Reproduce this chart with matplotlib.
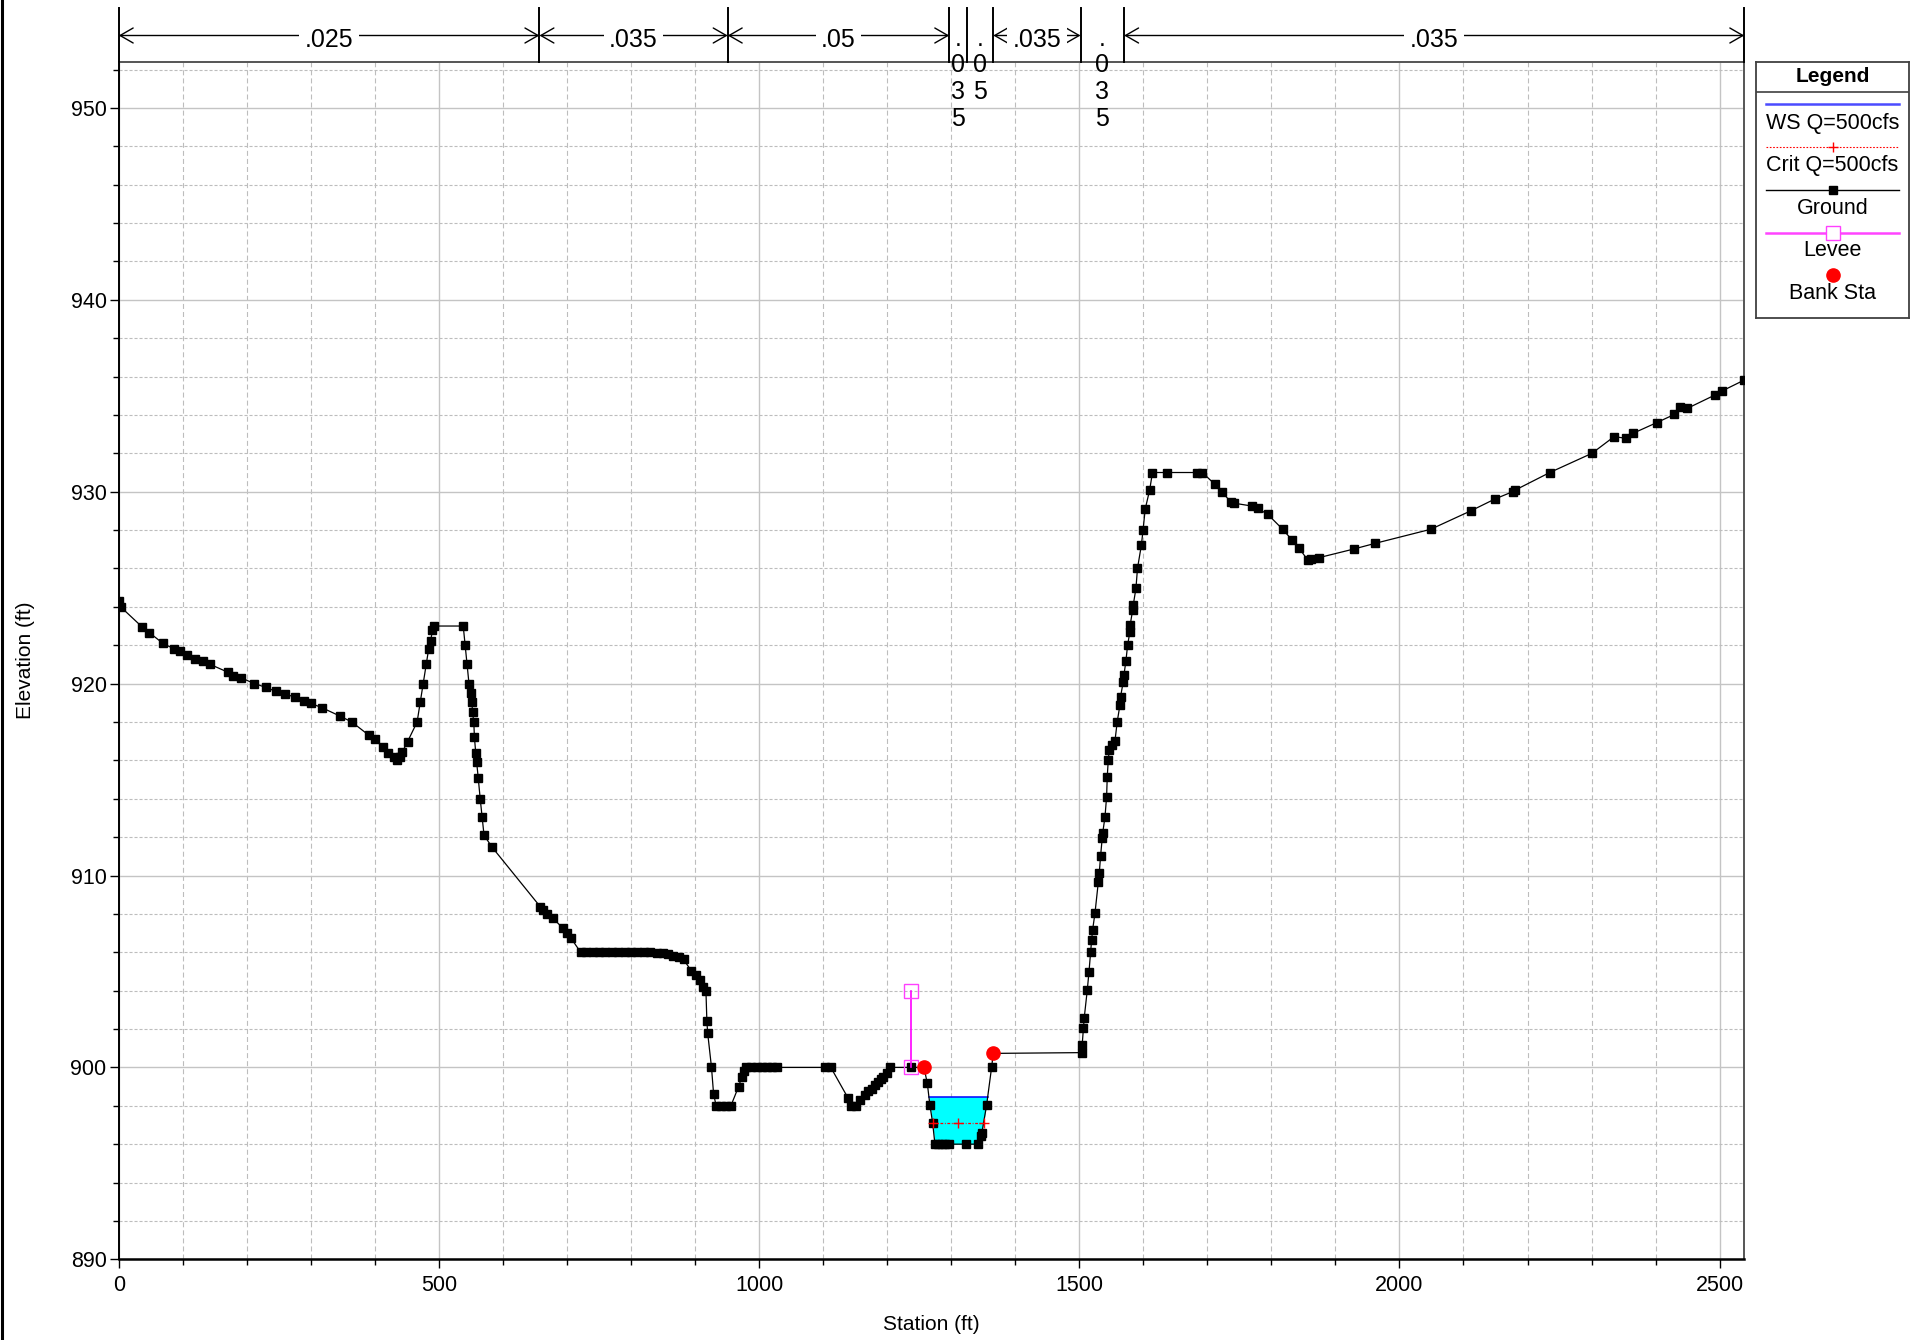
import numpy as np
import matplotlib
matplotlib.use("Agg")
import matplotlib.pyplot as plt
import matplotlib.transforms as mtransforms
from matplotlib.patches import FancyArrowPatch, ArrowStyle
from matplotlib.lines import Line2D
from matplotlib.ticker import MultipleLocator, FixedLocator

plt.rcParams['font.family'] = ['Liberation Sans', 'DejaVu Sans']
plt.rcParams['lines.scale_dashes'] = False

# ---- cross-section geometry (station ft, elevation ft) ----
station = [
    0, 3, 36, 48, 69, 87, 96, 107, 119, 131, 143, 170, 179, 191, 212, 230, 245,
    260, 275, 290, 300, 317, 346, 364, 391, 400, 412, 421, 430, 434, 439, 443,
    451, 466, 471, 475.5, 480, 484, 487, 490, 493, 538, 541, 544, 547, 550,
    551.5, 552.5, 554.5, 555.5, 557.5, 559, 561.5, 564.5, 567.5, 570.5, 582.5,
    658.4, 662, 669.3, 678.6, 694, 700, 706.6, 721.4, 730, 740, 750, 760, 770,
    780, 790, 800, 810, 820, 830, 840, 850, 858, 866, 875, 882, 894, 902,
    907.6, 913, 917, 918.5, 919.7, 925.7, 929, 933, 940, 948, 956, 968, 973,
    977, 980, 988, 996, 1004, 1012, 1020, 1028, 1103, 1112, 1139, 1143, 1152,
    1158, 1165, 1170, 1176, 1181, 1186, 1190, 1194, 1199, 1205, 1238, 1257.5,
    1262.7, 1266.8, 1271, 1274.6, 1280, 1285, 1291, 1297, 1323, 1342, 1346,
    1348, 1355.3, 1363.1, 1365.7, 1503.6, 1504.5, 1506.3, 1507.8, 1512.5,
    1515.1, 1517.7, 1519.3, 1520.8, 1524.5, 1529.7, 1531.2, 1533.3, 1535.9,
    1536.5, 1540.1, 1542.7, 1543.7, 1545.3, 1546.8, 1550.5, 1555.7, 1559.3,
    1563.5, 1564.5, 1568.7, 1569.8, 1572.9, 1575.5, 1579.1, 1579.5, 1583.3,
    1584.3, 1588.5, 1590.9, 1597, 1599.6, 1603, 1610, 1614.3, 1637.7, 1683.5,
    1692.2, 1711.2, 1722.5, 1737, 1742, 1770.1, 1778.7, 1794.3, 1817.7,
    1832.4, 1843.6, 1856.6, 1862, 1873.9, 1928.4, 1962.2, 2048.7, 2111.9,
    2149.1, 2176.8, 2181.1, 2234.8, 2300.6, 2335.2, 2354.2, 2364.6, 2401.8,
    2429.5, 2438.2, 2449.4, 2492.7, 2503.9, 2538.5,
]
elevation = [
    924.3, 924.0, 922.97, 922.65, 922.1, 921.8, 921.7, 921.5, 921.3, 921.2,
    921.0, 920.6, 920.4, 920.3, 920.0, 919.8, 919.6, 919.45, 919.3, 919.1,
    918.97, 918.75, 918.3, 918.0, 917.3, 917.1, 916.7, 916.4, 916.16, 916.0,
    916.2, 916.45, 916.97, 918.0, 919.06, 920.0, 921.0, 921.8, 922.2, 922.8,
    923.0, 923.0, 922.0, 921.0, 920.0, 919.5, 919.06, 918.5, 918.0, 917.2,
    916.4, 915.9, 915.06, 914.0, 913.07, 912.1, 911.5,
    908.37, 908.2, 908.0, 907.76, 907.24, 907.0, 906.72, 906.0, 906.0, 906.0,
    906.0, 906.0, 906.0, 906.0, 906.0, 906.0, 906.0, 906.0, 906.0, 905.98,
    905.95, 905.9, 905.8, 905.75, 905.63, 905.04, 904.8, 904.55, 904.2, 904.0,
    902.4, 901.8, 900.0, 898.6, 898.0, 898.0, 898.0, 898.0, 899.0, 899.5,
    899.8, 900.0, 900.0, 900.0, 900.0, 900.0, 900.0, 900.0, 900.0, 900.0,
    898.4, 898.0, 898.0, 898.3, 898.56, 898.75, 898.9, 899.1, 899.26, 899.4,
    899.52, 899.7, 900.0, 900.0, 900.0,
    899.17, 898.02, 897.12, 896.0, 896.0, 896.0, 896.0, 896.0, 896.0, 896.0,
    896.4, 896.6, 898.04, 900.0, 900.73, 900.77, 901.17, 902.04, 902.6,
    904.03, 904.95, 906.03, 906.64, 907.16, 908.03, 909.68, 910.11, 911.02,
    911.94, 912.2, 913.03, 914.11, 915.15, 916.02, 916.54, 916.8, 917.0,
    918.02, 918.88, 919.32, 920.1, 920.45, 921.2, 922.01, 922.7, 923.05,
    923.83, 924.1, 924.96, 926.0, 927.22, 928.0, 929.1, 930.1, 931.0, 931.0,
    931.0, 931.0, 930.4, 930.0, 929.45, 929.4, 929.25, 929.13, 928.82,
    928.04, 927.48, 927.05, 926.44, 926.5, 926.56, 927.01, 927.31, 928.04,
    929.01, 929.62, 930.0, 930.09, 931.0, 932.0, 932.87, 932.78, 933.04,
    933.6, 934.03, 934.43, 934.34, 935.04, 935.25, 935.82,
]

ws_elev = 898.48          # WS Q=500cfs
crit_elev = 897.12        # Crit Q=500cfs
levee_sta = 1238.0
levee_elev = 904.0
bank_sta = [1257.5, 1365.7]

# Manning's n breakpoints and values
n_breaks = [0, 657, 951, 1297, 1324, 1365.7, 1502, 1570, 2538.5]
n_labels = ['.025', '.035', '.05', '.035', '.05', '.035', '.035', '.035']

x_ticks = [0, 500, 1000, 1500, 2000, 2500]
y_ticks = [890, 900, 910, 920, 930, 940, 950]

legend_labels = ['WS Q=500cfs', 'Crit Q=500cfs', 'Ground', 'Levee', 'Bank Sta']

# ---- figure & axes (pixel layout) ----
W, H = 1919, 1340
fig = plt.figure(figsize=(W / 100, H / 100), dpi=100)
L, R, T, B = 118.7, 1744.3, 61.7, 1259.3
ax = fig.add_axes([L / W, 1 - B / H, (R - L) / W, (B - T) / H])

st = np.array(station, dtype=float)
el = np.array(elevation, dtype=float)

px_per_ft_y = 19.19
ax.set_xlim(st[0], st[-1])
ax.set_ylim(890, 890 + (B - T) / px_per_ft_y)

ax.xaxis.set_major_locator(FixedLocator(x_ticks))
ax.yaxis.set_major_locator(FixedLocator(y_ticks))
ax.xaxis.set_minor_locator(MultipleLocator(100))
ax.yaxis.set_minor_locator(MultipleLocator(2))

ax.set_axisbelow(True)
ax.xaxis.grid(True, which='major', color='#c4c4c4', lw=1.0, ls='-')
ax.yaxis.grid(True, which='major', color='#c4c4c4', lw=1.0, ls='-')
ax.xaxis.grid(True, which='minor', color='#bdbdbd', lw=0.8, ls=(0, (3.6, 2.2)))
ax.yaxis.grid(True, which='minor', color='#bdbdbd', lw=0.8, ls=(0, (2.2, 1.4)))

ax.tick_params(axis='both', which='major', direction='out', length=6.2,
               width=1.0, labelsize=15.5, color='black')
ax.tick_params(axis='both', which='minor', direction='out', length=4.3,
               width=1.0, color='black')
ax.tick_params(axis='x', which='major', pad=5)
ax.tick_params(axis='y', which='major', pad=2.5)

ax.spines['left'].set_color('black')
ax.spines['left'].set_linewidth(1.4)
ax.spines['bottom'].set_color('black')
ax.spines['bottom'].set_linewidth(1.8)
ax.spines['right'].set_color('#555555')
ax.spines['right'].set_linewidth(1.4)
ax.spines['top'].set_color('#555555')
ax.spines['top'].set_linewidth(1.4)

ax.set_xlabel('Station (ft)', fontsize=15)
ax.set_ylabel('Elevation (ft)', fontsize=15)
ax.xaxis.set_label_coords(0.5, (B - 1324) / (B - T))
ax.xaxis.label.set_va('center')
ax.yaxis.set_label_coords((25 - L) / (R - L), 0.5)
ax.yaxis.label.set_va('center')
ax.yaxis.label.set_ha('center')


def level_crossings(level, lo, hi):
    xs = []
    for i in range(len(st) - 1):
        if st[i] < lo or st[i + 1] > hi:
            continue
        a, b = el[i] - level, el[i + 1] - level
        if a * b < 0:
            xs.append(st[i] + (level - el[i]) * (st[i + 1] - st[i]) / (el[i + 1] - el[i]))
        elif a == 0:
            xs.append(st[i])
    return xs


# ---- water surface ----
sel = (st >= bank_sta[0]) & (st <= bank_sta[1])
ax.fill_between(st[sel], el[sel], ws_elev, where=el[sel] < ws_elev,
                interpolate=True, color='#00ffff', lw=0, zorder=2)
ws_x = level_crossings(ws_elev, bank_sta[0], bank_sta[1])
ax.plot([ws_x[0], ws_x[-1]], [ws_elev, ws_elev], color='#0000ff', lw=1.1, zorder=2.5)

# ---- ground ----
ax.plot(st, el, color='black', lw=0.9, marker='s', ms=6.3, mec='black',
        mfc='black', zorder=3)

# ---- critical depth ----
cr_x = level_crossings(crit_elev, bank_sta[0], bank_sta[1])
cx = [cr_x[0], 0.5 * (cr_x[0] + cr_x[-1]), cr_x[-1]]
ax.plot([cx[0], cx[-1]], [crit_elev, crit_elev], color='red', lw=0.9,
        ls=(0, (2.0, 1.2, 0.6, 1.2)), zorder=4)
ax.plot(cx, [crit_elev] * 3, ls='none', marker='+', ms=7, mew=1.0,
        color='red', zorder=4)

# ---- levee ----
levee_base = float(np.interp(levee_sta, st, el))
ax.plot([levee_sta, levee_sta], [levee_base, levee_elev], color='#ff00ff',
        lw=1.2, marker='s', ms=9.5, mfc='none', mec='#ff40ff', mew=1.0, zorder=4)

# ---- bank stations ----
bank_el = np.interp(bank_sta, st, el)
ax.plot(bank_sta, bank_el, ls='none', marker='o', ms=9.5, color='red',
        mec='red', zorder=5)

# ---- Manning's n band above the plot ----
trans = mtransforms.blended_transform_factory(ax.transData, ax.transAxes)
ax_h = B - T


def yfrac(py):
    return (B - py) / ax_h


band_top = yfrac(8.3)
y_arrow = yfrac(35.5)
y_text = yfrac(46.7)
for xb in n_breaks:
    ax.add_line(Line2D([xb, xb], [1.0, band_top], transform=trans, color='black',
                       lw=1.4, clip_on=False, zorder=6))

px_per_ft_x = (R - L) / (st[-1] - st[0])
arrow_style = ArrowStyle('<->', head_length=0.47, head_width=0.27)
char_step = 26.5
for a, b, lab in zip(n_breaks[:-1], n_breaks[1:], n_labels):
    width_px = (b - a) * px_per_ft_x
    xm = 0.5 * (a + b)
    if width_px > 70:
        arr = FancyArrowPatch((a, y_arrow), (b, y_arrow), transform=trans,
                              arrowstyle=arrow_style, mutation_scale=20,
                              lw=1.0, color='black', shrinkA=0, shrinkB=0,
                              clip_on=False, zorder=6)
        ax.add_patch(arr)
        ax.text(xm, y_text, lab, transform=trans, ha='center', va='baseline',
                fontsize=18, clip_on=False, zorder=7,
                bbox=dict(fc='white', ec='none', pad=4.0))
    else:
        for k, ch in enumerate(lab):
            ax.text(xm, yfrac(46.0 + k * char_step), ch, transform=trans,
                    ha='center', va='baseline', fontsize=18, clip_on=False,
                    zorder=7)

# ---- legend box ----
LL, LR, LT, LB = 1755.7, 1909.3, 62.3, 317.7
lg = fig.add_axes([LL / W, 1 - LB / H, (LR - LL) / W, (LB - LT) / H])
lg.set_xlim(LL, LR)
lg.set_ylim(LB, LT)
lg.set_xticks([])
lg.set_yticks([])
for s in lg.spines.values():
    s.set_color('#404040')
    s.set_linewidth(1.3)
xc = 0.5 * (LL + LR)
sx = [1766, 1899]
lg.text(xc, 76, 'Legend', ha='center', va='center', fontsize=15, weight='bold')
lg.plot([LL, LR], [92.3, 92.3], color='#404040', lw=1.2)

lg.plot(sx, [104.3, 104.3], color='#4b4bff', lw=1.8)
lg.plot(sx, [147.3, 147.3], color='red', lw=0.8, ls=(0, (1.2, 1.2)))
lg.plot([xc], [147.3], marker='+', ms=7, mew=1.0, color='red')
lg.plot(sx, [190, 190], color='black', lw=1.0)
lg.plot([xc], [190], marker='s', ms=6.3, color='black')
lg.plot(sx, [232.7, 232.7], color='#ff44ff', lw=1.8)
lg.plot([xc], [232.7], marker='s', ms=9.5, mfc='white', mec='#ff40ff', mew=1.0)
lg.plot([xc], [275], marker='o', ms=9.5, color='red')
for ytxt, lab in zip([123, 166, 208.5, 250.5, 293.5], legend_labels):
    lg.text(xc, ytxt, lab, ha='center', va='center', fontsize=15.5)

# window edge on the left side
fig.add_artist(Line2D([1.5 / W, 1.5 / W], [0, 1], transform=fig.transFigure,
                      color='black', lw=2.2))

fig.savefig('out.png', dpi=100)
